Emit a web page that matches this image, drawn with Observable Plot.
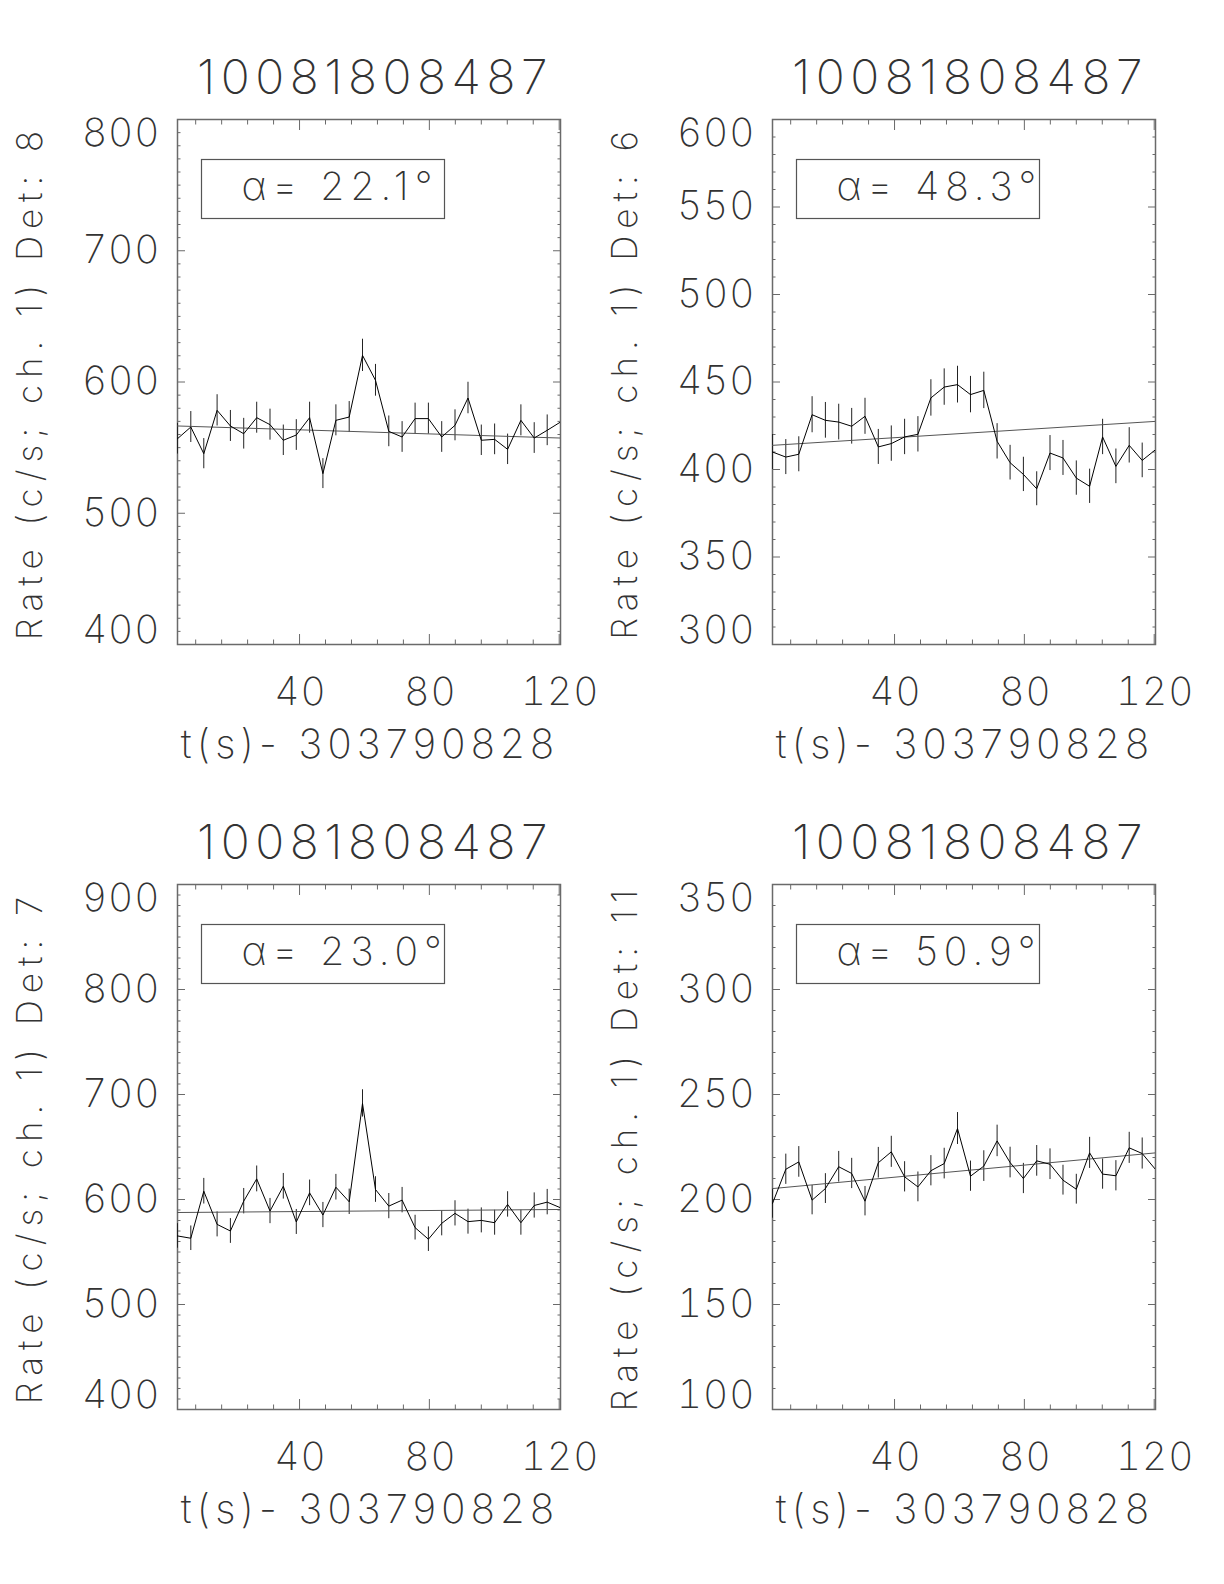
<!DOCTYPE html>
<html><head><meta charset="utf-8">
<script src="https://cdn.jsdelivr.net/npm/d3@7"></script>
<script src="https://cdn.jsdelivr.net/npm/@observablehq/plot@0.6"></script>
<style>
body{margin:0;background:#fff}
#page{position:relative;width:1224px;height:1584px;background:#fff;overflow:hidden}
.panel{position:absolute}
.panel svg{background:transparent}
.panel svg text{font-weight:200;-webkit-font-smoothing:antialiased}
</style></head><body><div id="page"></div><script>
const title = "10081808487";
const xTitle = "t(s)- 303790828";
const times = [2.4, 6.5, 10.5, 14.6, 18.7, 22.8, 26.8, 30.9, 35.0, 39.0, 43.1, 47.2, 51.2, 55.3, 59.4, 63.4, 67.5, 71.6, 75.6, 79.7, 83.8, 87.9, 91.9, 96.0, 100.1, 104.1, 108.2, 112.3, 116.3, 120.4];
const fitTimes = [2.4, 120.4];
const xLabels = [40, 80, 120];
const xMajor = [40, 80, 120];
const xMinor = [8, 16, 24, 32, 48, 56, 64, 72, 88, 96, 104, 112];

const dets = ["8", "6", "7", "11"];
const alphas = ["22.1", "48.3", "23.0", "50.9"];

const rate8 = [556.8, 565.7, 545.4, 578.4, 566.5, 560.6, 572.8, 567.5, 555.6, 559.6, 572.8, 530.2, 570.8, 573.3, 620.3, 601.3, 562.4, 558.1, 572.1, 572.1, 558.1, 567.0, 587.8, 555.6, 556.3, 548.7, 570.8, 557.3, 563.2, 569.5];
const err8 = [11.7,11.8,11.5,11.9,11.8,11.7,11.8,11.8,11.6,11.7,11.8,11.4,11.8,11.8,12.3,12.1,11.7,11.7,11.8,11.8,11.7,11.8,12.0,11.6,11.7,11.6,11.8,11.7,11.7,11.8];
const fit8 = [566.5, 557.3];

const rate6 = [410.0, 407.1, 408.7, 431.3, 428.1, 427.1, 424.7, 430.4, 412.9, 414.8, 418.6, 420.1, 440.9, 447.1, 448.5, 442.8, 445.2, 416.1, 403.9, 397.2, 389.0, 409.4, 406.6, 395.1, 390.4, 418.6, 401.8, 413.8, 405.2, 411.3];
const err6 = [10.0,10.0,10.0,10.3,10.2,10.2,10.2,10.3,10.0,10.1,10.1,10.1,10.4,10.4,10.5,10.4,10.4,10.1,9.9,9.8,9.7,10.0,10.0,9.8,9.8,10.1,9.9,10.1,9.9,10.0];
const fit6 = [413.8, 427.5];

const rate7 = [565.3, 563.1, 607.9, 576.3, 570.0, 598.4, 619.6, 589.0, 612.6, 578.6, 606.3, 585.2, 611.7, 597.8, 691.5, 609.5, 593.7, 599.4, 573.2, 562.2, 577.3, 586.8, 578.9, 580.1, 577.9, 595.3, 577.9, 594.3, 597.5, 592.1];
const err7 = [11.7,11.7,12.2,11.9,11.8,12.1,12.3,12.0,12.2,11.9,12.2,12.0,12.2,12.1,13.0,12.2,12.0,12.1,11.8,11.7,11.9,12.0,11.9,11.9,11.9,12.1,11.9,12.0,12.1,12.0];
const fit7 = [587.6, 590.5];

const rate11 = [198.1, 214.4, 217.9, 199.7, 205.2, 215.6, 212.4, 199.2, 217.5, 222.7, 210.8, 206.0, 213.7, 217.1, 233.8, 211.1, 215.9, 227.9, 217.6, 210.0, 218.4, 216.8, 209.2, 204.9, 222.2, 212.1, 211.3, 224.6, 221.9, 214.3];
const err11 = [7.0,7.2,7.3,7.0,7.1,7.3,7.2,7.0,7.3,7.4,7.2,7.1,7.2,7.3,7.6,7.2,7.3,7.5,7.3,7.2,7.3,7.3,7.1,7.1,7.4,7.2,7.2,7.4,7.4,7.2];
const fit11 = [205.2, 222.2];

const yTicks8 = [400, 500, 600, 700, 800];
const yTicks6 = [300, 350, 400, 450, 500, 550, 600];
const yTicks7 = [400, 500, 600, 700, 800, 900];
const yTicks11 = [100, 150, 200, 250, 300, 350];

const panels = [
  {det: dets[0], alpha: alphas[0], rate: rate8, err: err8, fit: fit8, yTicks: yTicks8, minorStep: 10, left: 0, top: 0},
  {det: dets[1], alpha: alphas[1], rate: rate6, err: err6, fit: fit6, yTicks: yTicks6, minorStep: 10, left: 595, top: 0},
  {det: dets[2], alpha: alphas[2], rate: rate7, err: err7, fit: fit7, yTicks: yTicks7, minorStep: 10, left: 0, top: 765},
  {det: dets[3], alpha: alphas[3], rate: rate11, err: err11, fit: fit11, yTicks: yTicks11, minorStep: 10, left: 595, top: 765}
];

const W = 595, H = 765, ML = 177, MR = 35, MT = 119, MB = 121;
const TXT = "#333", AX = "#6a6a6a";
const FONT = "Inter, Roboto, 'DejaVu Sans', sans-serif";

function makePanel(p) {
  const data = times.map((t, i) => ({t, r: p.rate[i], e: p.err[i]}));
  const fit = fitTimes.map((t, i) => ({t, r: p.fit[i]}));
  const y0 = p.yTicks[0], y1 = p.yTicks[p.yTicks.length - 1];
  const yMid = p.yTicks.slice(1, -1);
  const yMinor = d3.range(y0, y1 + 1e-6, p.minorStep).filter(v => !p.yTicks.includes(v));
  const blank = () => "";
  const tickMarks = [];
  for (const a of ["bottom", "top"]) {
    const s = a === "bottom" ? -1 : 1;
    tickMarks.push(Plot.axisX(xMajor, {anchor: a, tickSize: 10, dy: s * 10, tickFormat: blank, label: null, stroke: AX}));
    tickMarks.push(Plot.axisX(xMinor, {anchor: a, tickSize: 4.5, dy: s * 4.5, tickFormat: blank, label: null, stroke: AX}));
  }
  for (const a of ["left", "right"]) {
    const s = a === "left" ? 1 : -1;
    tickMarks.push(Plot.axisY(p.yTicks, {anchor: a, tickSize: 8, dx: s * 8, tickFormat: blank, label: null, stroke: AX}));
    tickMarks.push(Plot.axisY(yMinor, {anchor: a, tickSize: 3.5, dx: s * 3.5, tickFormat: blank, label: null, stroke: AX}));
  }
  return Plot.plot({
    width: W, height: H,
    marginLeft: ML, marginRight: MR, marginTop: MT, marginBottom: MB,
    style: {fontFamily: FONT, color: TXT, background: "transparent", overflow: "visible"},
    x: {domain: [fitTimes[0], fitTimes[1]], axis: null},
    y: {domain: [y0, y1], axis: null},
    marks: [
      Plot.frame({stroke: AX, strokeWidth: 1.5}),
      Plot.frame({stroke: "#555", strokeWidth: 1.2, insetLeft: 24, insetTop: 40, insetRight: 116, insetBottom: 426}),
      Plot.text([`α= ${p.alpha}°`], {frameAnchor: "top-left", lineAnchor: "middle", dx: 64, dy: 68, textAnchor: "start", fontSize: 39, fill: TXT}),
      ...tickMarks,
      Plot.axisX(xLabels, {anchor: "bottom", tickSize: 0, tickPadding: 33, fontSize: 39, label: null, fill: TXT, dx: 1}),
      Plot.axisY(yMid, {anchor: "left", tickSize: 0, tickPadding: 17, fontSize: 39, label: null, fill: TXT}),
      Plot.axisY([y1], {anchor: "left", tickSize: 0, tickPadding: 17, fontSize: 39, label: null, fill: TXT, dy: 14}),
      Plot.axisY([y0], {anchor: "left", tickSize: 0, tickPadding: 17, fontSize: 39, label: null, fill: TXT, dy: -14}),
      Plot.text([title], {frameAnchor: "top", lineAnchor: "middle", textAnchor: "middle", dy: -41, dx: 6, fontSize: 48, fill: TXT}),
      Plot.text([xTitle], {frameAnchor: "bottom", lineAnchor: "middle", textAnchor: "middle", dy: 101, dx: 1, fontSize: 40, fill: TXT}),
      Plot.text([`Rate (c/s; ch. 1) Det: ${p.det}`], {frameAnchor: "left", lineAnchor: "middle", textAnchor: "middle", rotate: -90, dx: -147, dy: 0, fontSize: 35, fill: TXT}),
      Plot.ruleX(data, {x: "t", y1: d => d.r - d.e, y2: d => d.r + d.e, stroke: "#222", strokeWidth: 1, clip: true}),
      Plot.line(fit, {x: "t", y: "r", stroke: "#555", strokeWidth: 1, clip: true}),
      Plot.line(data, {x: "t", y: "r", stroke: "#000", strokeWidth: 1, clip: true})
    ]
  });
}

// letter spacing to mimic the wide vector font
function spaceText(svg) {
  d3.select(svg).selectAll("text").each(function () {
    const s = this.textContent;
    let ls = 1;
    if (s === title) ls = 5.5;
    else if (s.startsWith("t(s)")) ls = 5.2;
    else if (s.startsWith("Rate")) ls = 7;
    else if (s.startsWith("α")) ls = 6;
    this.style.letterSpacing = ls + "px";
  });
  return svg;
}

const page = document.getElementById("page");
for (const p of panels) {
  const div = document.createElement("div");
  div.className = "panel";
  div.style.left = p.left + "px";
  div.style.top = p.top + "px";
  div.appendChild(spaceText(makePanel(p)));
  page.appendChild(div);
}
</script></body></html>
